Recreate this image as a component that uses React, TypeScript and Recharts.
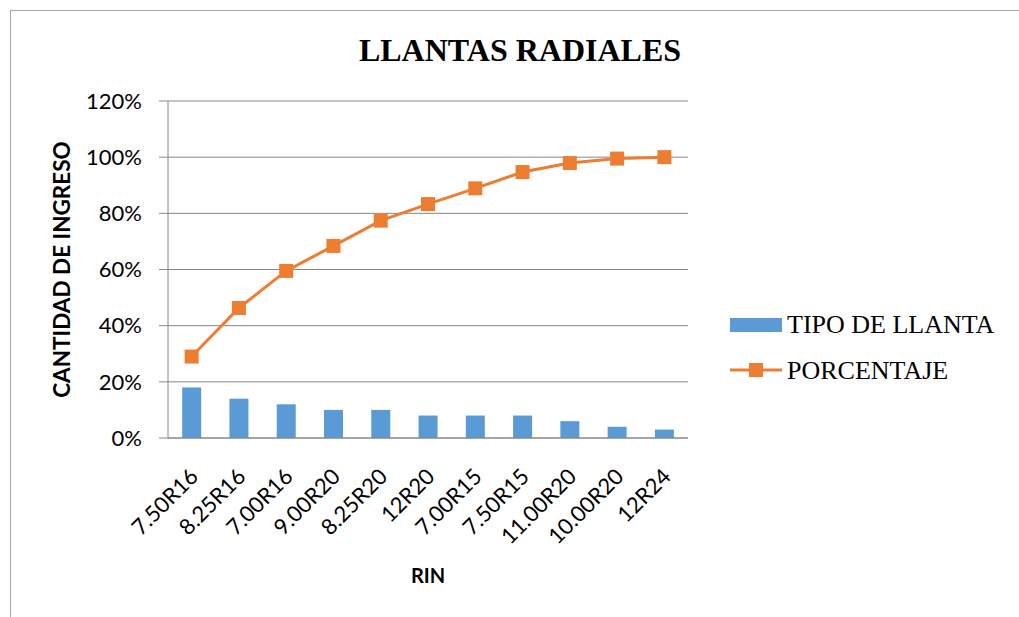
import { ComposedChart, Bar, Line, XAxis, YAxis, CartesianGrid, Legend, Label } from 'recharts'

const llantas = ['7.50R16', '8.25R16', '7.00R16', '9.00R20', '8.25R20', '12R20', '7.00R15', '7.50R15', '11.00R20', '10.00R20', '12R24']
const tipoDeLlanta = [0.18, 0.14, 0.12, 0.1, 0.1, 0.08, 0.08, 0.08, 0.06, 0.04, 0.03]
const porcentaje = [0.29, 0.463, 0.595, 0.684, 0.774, 0.833, 0.889, 0.947, 0.979, 0.995, 1.0]
const yTicks = [0, 0.2, 0.4, 0.6, 0.8, 1.0, 1.2]

const data = llantas.map((name, i) => ({ name, tipo: tipoDeLlanta[i], pct: porcentaje[i] }))

const SANS = 'Lato, "Open Sans", sans-serif'
const SERIF = '"Liberation Serif", "Times New Roman", serif'
const BLUE = '#5B9BD5'
const ORANGE = '#ED7D31'
const GRID = '#868686'

function XTick({ x, y, payload }: any) {
  const tx = x + 8
  const ty = y + 32
  return (
    <text
      x={tx}
      y={ty}
      transform={`rotate(-45, ${tx}, ${ty})`}
      textAnchor="end"
      fontFamily={SANS}
      fontSize={22}
      fill="#000"
    >
      {payload.value}
    </text>
  )
}

function SquareDot({ cx, cy }: any) {
  if (cx == null || cy == null) return null
  return <rect x={cx - 7} y={cy - 7} width={14} height={14} fill={ORANGE} />
}

function LegendBox() {
  return (
    <svg width={290} height={90} style={{ display: 'block' }}>
      <rect x={5} y={18} width={52} height={14} fill={BLUE} />
      <text x={62} y={33} fontFamily={SERIF} fontSize={26} fill="#000">TIPO DE LLANTA</text>
      <line x1={5} y1={70} x2={57} y2={70} stroke={ORANGE} strokeWidth={3} />
      <rect x={24} y={63} width={14} height={14} fill={ORANGE} />
      <text x={62} y={79} fontFamily={SERIF} fontSize={26} fill="#000">PORCENTAJE</text>
    </svg>
  )
}

export default function App() {
  return (
    <div style={{ position: 'absolute', left: 0, top: 0, width: 1019, height: 617, background: '#fff' }}>
      <div
        style={{
          position: 'absolute',
          left: 10,
          top: 10,
          width: 1020,
          height: 620,
          borderLeft: `1px solid #a6a6a6`,
          borderTop: `1px solid #a6a6a6`,
        }}
      />
      <div
        style={{
          position: 'absolute',
          left: 0,
          top: 32,
          width: 1040,
          textAlign: 'center',
          fontFamily: SERIF,
          fontWeight: 'bold',
          fontSize: 32,
          lineHeight: '36px',
          color: '#000',
        }}
      >
        LLANTAS RADIALES
      </div>
      <div style={{ position: 'absolute', left: 0, top: 0 }}>
        <ComposedChart
          width={1019}
          height={617}
          data={data}
          margin={{ top: 101, right: 41, bottom: 0, left: 48 }}
          barCategoryGap="30%"
        >
          <CartesianGrid vertical={false} stroke={GRID} strokeWidth={1} />
          <XAxis
            dataKey="name"
            interval={0}
            height={179}
            tickLine={false}
            axisLine={{ stroke: GRID }}
            tick={<XTick />}
          >
            <Label
              value="RIN"
              position="insideBottom"
              offset={34}
              fontFamily={SANS}
              fontWeight="bold"
              fontSize={20}
              fill="#000"
            />
          </XAxis>
          <YAxis
            width={120}
            domain={[0, 1.2]}
            ticks={yTicks}
            tickFormatter={(v: number) => `${Math.round(v * 100)}%`}
            tick={{ fill: '#000', fontSize: 22, fontFamily: SANS }}
            tickLine={{ stroke: GRID }}
            tickSize={9}
            tickMargin={17}
            axisLine={{ stroke: GRID }}
          >
            <Label
              value="CANTIDAD DE INGRESO"
              angle={-90}
              position="center"
              dx={-46}
              fontFamily={SANS}
              fontWeight="bold"
              fontSize={22.5}
              fill="#000"
            />
          </YAxis>
          <Legend
            layout="horizontal"
            verticalAlign="middle"
            align="right"
            content={<LegendBox />}
            wrapperStyle={{ position: 'absolute', left: 725, top: 300, width: 290 }}
          />
          <Bar dataKey="tipo" name="TIPO DE LLANTA" fill={BLUE} isAnimationActive={false} />
          <Line
            type="linear"
            dataKey="pct"
            name="PORCENTAJE"
            stroke={ORANGE}
            strokeWidth={3}
            dot={<SquareDot />}
            activeDot={false}
            isAnimationActive={false}
          />
        </ComposedChart>
      </div>
    </div>
  )
}
